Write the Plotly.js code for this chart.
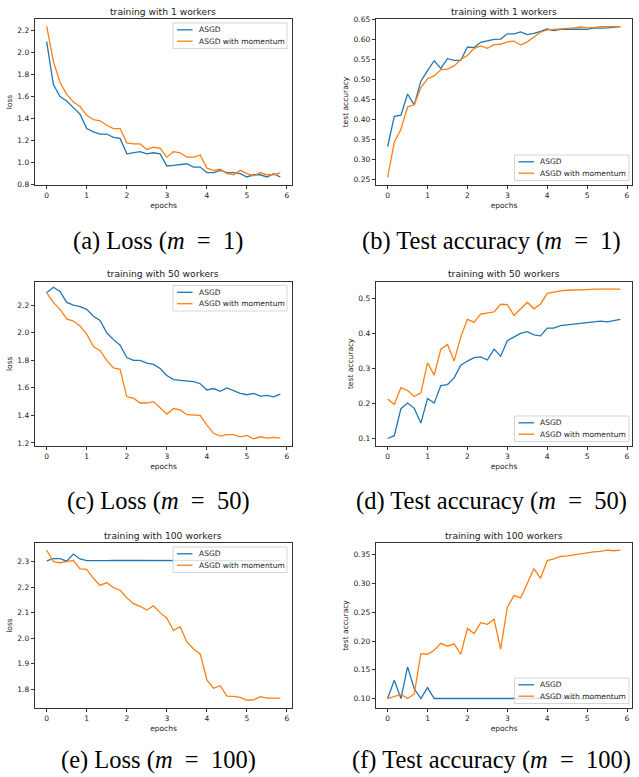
<!DOCTYPE html>
<html>
<head>
<meta charset="utf-8">
<script src="https://cdn.plot.ly/plotly-3.0.1.min.js"></script>
<style>html,body{margin:0;padding:0;background:#fff;}#chart{width:639px;height:777px;}</style>
</head>
<body>
<div id="chart"></div>
<script>
// ---- data ----
const epochs = [0,0.167,0.333,0.5,0.667,0.833,1,1.167,1.333,1.5,1.667,1.833,2,2.167,2.333,2.5,2.667,2.833,3,3.167,3.333,3.5,3.667,3.833,4,4.167,4.333,4.5,4.667,4.833,5,5.167,5.333,5.5,5.667,5.833];
const seriesNames = ["ASGD", "ASGD with momentum"];
const panelTitles = ["training with 1 workers","training with 1 workers","training with 50 workers","training with 50 workers","training with 100 workers","training with 100 workers"];
const yLabels = ["loss","test accuracy","loss","test accuracy","loss","test accuracy"];
const xLabel = "epochs";
const captions = ["(a) Loss (<i>m</i>\u2002=\u20021)","(b) Test accuracy (<i>m</i>\u2002=\u20021)","(c) Loss (<i>m</i>\u2002=\u200250)","(d) Test accuracy (<i>m</i>\u2002=\u200250)","(e) Loss (<i>m</i>\u2002=\u2002100)","(f) Test accuracy (<i>m</i>\u2002=\u2002100)"];

const loss1_asgd = [2.10,1.71,1.60,1.56,1.50,1.44,1.31,1.28,1.26,1.26,1.23,1.22,1.08,1.09,1.10,1.08,1.09,1.08,0.97,0.975,0.98,0.99,0.96,0.96,0.91,0.91,0.93,0.91,0.91,0.90,0.87,0.89,0.89,0.87,0.90,0.87];
const loss1_mom  = [2.24,1.92,1.73,1.62,1.55,1.51,1.43,1.39,1.38,1.34,1.31,1.31,1.18,1.17,1.17,1.12,1.14,1.13,1.05,1.10,1.09,1.05,1.05,1.07,0.95,0.93,0.94,0.90,0.89,0.93,0.90,0.88,0.91,0.89,0.89,0.91];
const acc1_asgd  = [0.333,0.408,0.411,0.464,0.437,0.496,0.522,0.547,0.528,0.552,0.548,0.548,0.581,0.580,0.593,0.597,0.600,0.601,0.614,0.614,0.619,0.612,0.615,0.620,0.626,0.622,0.625,0.626,0.626,0.625,0.625,0.629,0.628,0.629,0.631,0.632];
const acc1_mom   = [0.256,0.344,0.376,0.432,0.437,0.480,0.502,0.509,0.525,0.526,0.534,0.550,0.560,0.578,0.584,0.578,0.587,0.588,0.594,0.596,0.586,0.594,0.606,0.618,0.624,0.625,0.626,0.627,0.629,0.631,0.629,0.630,0.632,0.632,0.632,0.632];
const loss50_asgd = [2.29,2.33,2.30,2.22,2.20,2.19,2.17,2.12,2.09,2.00,1.95,1.91,1.82,1.80,1.80,1.78,1.77,1.74,1.69,1.66,1.655,1.65,1.645,1.63,1.585,1.595,1.575,1.60,1.58,1.56,1.55,1.56,1.54,1.545,1.535,1.555];
const loss50_mom  = [2.29,2.22,2.17,2.10,2.085,2.05,1.99,1.90,1.87,1.80,1.745,1.735,1.535,1.525,1.49,1.49,1.50,1.455,1.41,1.45,1.44,1.405,1.405,1.40,1.33,1.27,1.25,1.26,1.26,1.245,1.255,1.23,1.245,1.235,1.24,1.235];
const acc50_asgd  = [0.100,0.108,0.185,0.201,0.186,0.144,0.214,0.201,0.251,0.254,0.273,0.309,0.321,0.331,0.333,0.324,0.355,0.335,0.379,0.390,0.400,0.405,0.396,0.393,0.415,0.415,0.422,0.424,0.426,0.427,0.429,0.433,0.435,0.433,0.436,0.440];
const acc50_mom   = [0.213,0.197,0.245,0.237,0.220,0.230,0.316,0.281,0.355,0.368,0.321,0.390,0.440,0.432,0.455,0.459,0.461,0.483,0.482,0.451,0.469,0.489,0.470,0.484,0.514,0.518,0.521,0.523,0.523,0.525,0.525,0.526,0.526,0.527,0.526,0.526];
const loss100_asgd = [2.303,2.312,2.312,2.302,2.330,2.311,2.304,2.303,2.304,2.304,2.305,2.305,2.304,2.304,2.304,2.304,2.304,2.304,2.304,2.304,2.304,2.304,2.304,2.304,2.304,2.304,2.304,2.304,2.304,2.304,2.304,2.304,2.304,2.304,2.304,2.304];
const loss100_mom  = [2.345,2.300,2.296,2.300,2.305,2.272,2.270,2.235,2.207,2.218,2.198,2.188,2.158,2.135,2.125,2.110,2.127,2.100,2.078,2.030,2.045,1.985,1.957,1.938,1.836,1.803,1.813,1.772,1.771,1.767,1.756,1.757,1.770,1.764,1.764,1.764];
const acc100_asgd  = [0.100,0.132,0.100,0.155,0.117,0.100,0.119,0.100,0.100,0.100,0.100,0.100,0.100,0.100,0.100,0.100,0.100,0.100,0.100,0.100,0.100,0.100,0.100,0.100,0.100,0.100,0.100,0.100,0.100,0.100,0.100,0.100,0.100,0.100,0.100,0.100];
const acc100_mom   = [0.100,0.103,0.107,0.100,0.108,0.178,0.177,0.184,0.196,0.191,0.195,0.177,0.222,0.213,0.232,0.229,0.238,0.186,0.259,0.279,0.275,0.300,0.326,0.309,0.340,0.343,0.347,0.348,0.350,0.351,0.354,0.355,0.356,0.358,0.357,0.358];

// ---- layout helpers ----
const W = 639, H = 777;
const px = x => x / W;
const py = y => 1 - y / H;
const colors = ["#1f77b4", "#ff7f0e"];
const FONT = "DejaVu Sans";
const panels = [
  {a: loss1_asgd,  b: loss1_mom,  box:{l:35,r:292,t:19,b:185},   yr:[0.797,2.305], dt:0.2,  fmt:".1f", leg:"upper"},
  {a: acc1_asgd,   b: acc1_mom,   box:{l:376,r:632,t:19,b:185},  yr:[0.237,0.651], dt:0.05, fmt:".2f", leg:"lower"},
  {a: loss50_asgd, b: loss50_mom, box:{l:35,r:292,t:281.5,b:446},yr:[1.178,2.372], dt:0.2,  fmt:".1f", leg:"upper"},
  {a: acc50_asgd,  b: acc50_mom,  box:{l:376,r:632,t:281.5,b:446},yr:[0.0786,0.548],dt:0.1, fmt:".1f", leg:"lower"},
  {a: loss100_asgd,b: loss100_mom,box:{l:35,r:292,t:543,b:708},  yr:[1.7255,2.3735],dt:0.1, fmt:".1f", leg:"upper"},
  {a: acc100_asgd, b: acc100_mom, box:{l:376,r:632,t:543,b:708}, yr:[0.0835,0.3705],dt:0.05,fmt:".2f", leg:"lower"}
];
const captionPos = [[158,241],[491,241],[158,501],[491,501],[158,760],[491,760]];

const traces = [];
const layout = {
  width: W, height: H,
  margin: {l:0, r:0, t:0, b:0},
  paper_bgcolor: "#fff", plot_bgcolor: "#fff",
  showlegend: false,
  font: {family: FONT, size: 7.5, color: "#222"},
  annotations: [], shapes: []
};

panels.forEach((p, i) => {
  const n = i + 1;
  const xa = "x" + (n === 1 ? "" : n), ya = "y" + (n === 1 ? "" : n);
  [p.a, p.b].forEach((vals, k) => {
    traces.push({x: epochs, y: vals, type: "scatter", mode: "lines", name: seriesNames[k],
      xaxis: xa, yaxis: ya, line: {color: colors[k], width: 1.3}, hoverinfo: "skip"});
  });
  const common = {showline: true, mirror: true, linecolor: "#000", linewidth: 0.8,
    ticks: "outside", ticklen: 3.5, tickwidth: 0.8, tickcolor: "#000",
    showgrid: false, zeroline: false, automargin: false,
    tickfont: {family: FONT, size: 7.5, color: "#222"}};
  layout["xaxis" + (n === 1 ? "" : n)] = Object.assign({}, common, {
    domain: [px(p.box.l), px(p.box.r)], anchor: ya, range: [-0.2917, 6.125],
    tick0: 0, dtick: 1, title: {text: xLabel, font: {family: FONT, size: 7.5, color: "#222"}, standoff: 3}
  });
  layout["yaxis" + (n === 1 ? "" : n)] = Object.assign({}, common, {
    domain: [py(p.box.b), py(p.box.t)], anchor: xa, range: p.yr,
    tick0: 0, dtick: p.dt, tickformat: p.fmt,
    title: {text: yLabels[i], font: {family: FONT, size: 7.5, color: "#222"}, standoff: 3}
  });
  // subplot title
  layout.annotations.push({text: panelTitles[i], xref: "paper", yref: "paper",
    x: px((p.box.l + p.box.r) / 2), y: py(p.box.t - 8), xanchor: "center", yanchor: "middle",
    showarrow: false, font: {family: FONT, size: 9.2, color: "#222"}});
  // legend box
  let L, R, T;
  if (p.leg === "upper") { L = p.box.l + 138; R = p.box.r - 5; T = p.box.t + 4; }
  else { L = p.box.l + 138.5; R = p.box.r - 3; T = p.box.b - 4.5 - 25.5; }
  const B = T + 25.5;
  layout.shapes.push({type: "rect", xref: "paper", yref: "paper", x0: px(L), x1: px(R), y0: py(B), y1: py(T),
    line: {color: "#cccccc", width: 0.8}, fillcolor: "rgba(255,255,255,0.8)", layer: "above"});
  [T + 6.8, T + 18.2].forEach((yy, k) => {
    layout.shapes.push({type: "line", xref: "paper", yref: "paper", x0: px(L + 4), x1: px(L + 19.5), y0: py(yy), y1: py(yy),
      line: {color: colors[k], width: 1.3}, layer: "above"});
    layout.annotations.push({text: seriesNames[k], xref: "paper", yref: "paper", x: px(L + 23.5), y: py(yy),
      xanchor: "left", yanchor: "middle", showarrow: false, font: {family: FONT, size: 7.5, color: "#222"}});
  });
  // caption
  layout.annotations.push({text: captions[i], xref: "paper", yref: "paper",
    x: px(captionPos[i][0]), y: py(captionPos[i][1]), xanchor: "center", yanchor: "middle",
    showarrow: false, font: {family: "Liberation Serif", size: 24.5, color: "#000"}});
});

Plotly.newPlot("chart", traces, layout, {staticPlot: true, displayModeBar: false});
</script>
</body>
</html>
